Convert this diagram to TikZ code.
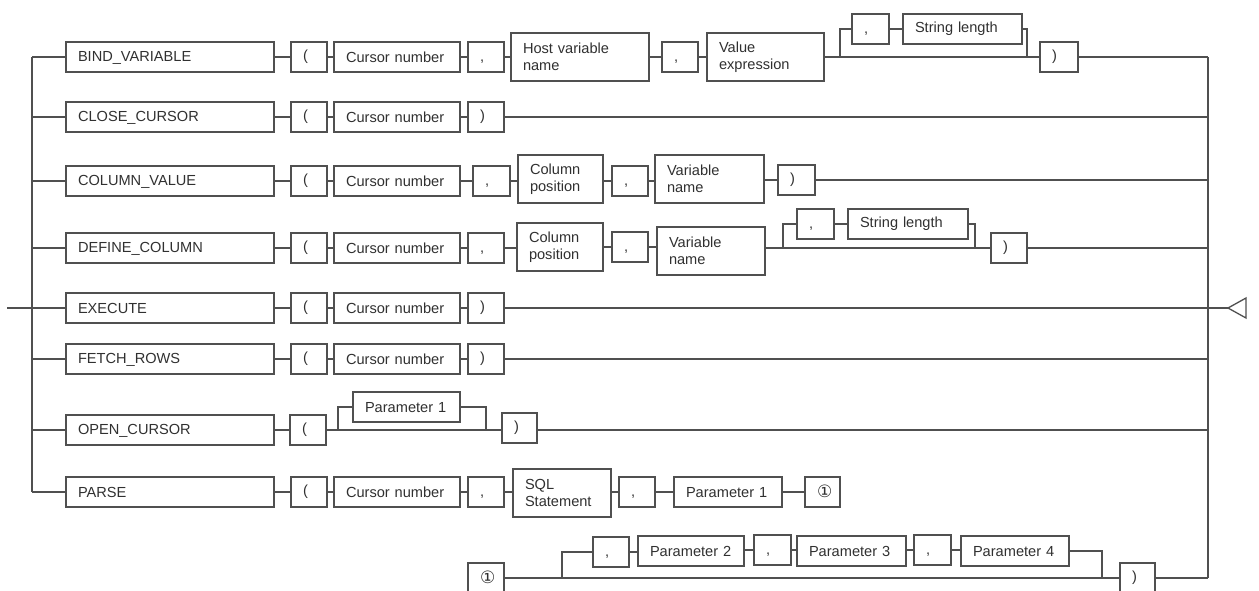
\documentclass[tikz,border=0pt]{standalone}
\usepackage{fontspec}
\setmainfont{Liberation Sans}
\newfontfamily\dejavu{DejaVu Sans}
\definecolor{ln}{HTML}{505050}
\definecolor{tx}{HTML}{303030}
\newcommand\mystrut{\rule[-1pt]{0pt}{12pt}}
\newcommand\mybox[7][]{%
  \pgfmathsetmacro\bxw{#4-#3}%
  \pgfmathsetmacro\bxc{(#3+#4)/2}%
  \pgfmathsetmacro\bxt{#4-#3-24}%
  \node[box,minimum width=\bxw pt,minimum height=#6 pt,text width=\bxt pt,#1] (#2) at (\bxc,#5) {#7};}
\tikzset{
  box/.style={draw=ln,line width=1.3pt,rectangle,inner xsep=12pt,inner ysep=0pt,
    align=left,text=tx,font=\fontsize{14.6}{17}\selectfont,
    execute at begin node=\mystrut,execute at end node=\mystrut},
  circ/.style={align=center,font=\dejavu\fontsize{17}{17}\selectfont},
  conn/.style={draw=ln,line width=1.3pt}
}
\begin{document}
\begin{tikzpicture}[x=1pt,y=-1pt]
\path[use as bounding box,clip] (0,0) rectangle (1259,590);
% row 1
\mybox{kw1}{66}{274}{57}{30}{BIND\_VARIABLE}
\mybox{lp1}{291}{327}{57}{30}{(}
\mybox{cn1}{334}{460}{57}{30}{Cursor number}
\mybox{ca1}{468}{504}{57}{30}{,}
\mybox{hv1}{511}{649}{57}{48}{Host variable\\name}
\mybox{cb1}{662}{698}{57}{30}{,}
\mybox{ve1}{707}{824}{57}{48}{Value\\expression}
\mybox{cc1}{852}{889}{29}{30}{,}
\mybox{sl1}{903}{1022}{29}{30}{String length}
\mybox{rp1}{1040}{1078}{57}{30}{)}
% row 2
\mybox{kw2}{66}{274}{117}{30}{CLOSE\_CURSOR}
\mybox{lp2}{291}{327}{117}{30}{(}
\mybox{cn2}{334}{460}{117}{30}{Cursor number}
\mybox{rp2}{468}{504}{117}{30}{)}
% row 3
\mybox{kw3}{66}{274}{181}{30}{COLUMN\_VALUE}
\mybox{lp3}{291}{327}{181}{30}{(}
\mybox{cn3}{334}{460}{181}{30}{Cursor number}
\mybox{ca3}{473}{510}{181}{30}{,}
\mybox{cp3}{518}{603}{179}{48}{Column\\position}
\mybox{cb3}{612}{648}{181}{30}{,}
\mybox{vn3}{655}{764}{179}{48}{Variable\\name}
\mybox{rp3}{778}{815}{180}{30}{)}
% row 4
\mybox{kw4}{66}{274}{248}{30}{DEFINE\_COLUMN}
\mybox{lp4}{291}{327}{248}{30}{(}
\mybox{cn4}{334}{460}{248}{30}{Cursor number}
\mybox{ca4}{468}{504}{248}{30}{,}
\mybox{cp4}{517}{603}{247}{48}{Column\\position}
\mybox{cb4}{612}{648}{247}{30}{,}
\mybox{vn4}{657}{765}{251}{48}{Variable\\name}
\mybox{cc4}{797}{834}{224}{30}{,}
\mybox{sl4}{848}{968}{224}{30}{String length}
\mybox{rp4}{991}{1027}{248}{30}{)}
% row 5
\mybox{kw5}{66}{274}{308}{30}{EXECUTE}
\mybox{lp5}{291}{327}{308}{30}{(}
\mybox{cn5}{334}{460}{308}{30}{Cursor number}
\mybox{rp5}{468}{504}{308}{30}{)}
% row 6
\mybox{kw6}{66}{274}{359}{30}{FETCH\_ROWS}
\mybox{lp6}{291}{327}{359}{30}{(}
\mybox{cn6}{334}{460}{359}{30}{Cursor number}
\mybox{rp6}{468}{504}{359}{30}{)}
% row 7
\mybox{kw7}{66}{274}{430}{30}{OPEN\_CURSOR}
\mybox{lp7}{290}{326}{430}{30}{(}
\mybox{pa7}{353}{460}{407}{30}{Parameter 1}
\mybox{rp7}{502}{537}{428}{30}{)}
% row 8
\mybox{kw8}{66}{274}{492}{30}{PARSE}
\mybox{lp8}{291}{327}{492}{30}{(}
\mybox{cn8}{334}{460}{492}{30}{Cursor number}
\mybox{ca8}{468}{504}{492}{30}{,}
\mybox{sq8}{513}{611}{493}{48}{SQL\\Statement}
\mybox{cb8}{619}{655}{492}{30}{,}
\mybox{pa8}{674}{782}{492}{30}{Parameter 1}
\mybox[circ]{ci8}{805}{840}{492}{30}{①}
% row 9
\mybox[circ]{ci9}{468}{504}{578}{30}{①}
\mybox{ca9}{593}{629}{552}{30}{,}
\mybox{p29}{638}{744}{551}{30}{Parameter 2}
\mybox{cb9}{754}{791}{550}{30}{,}
\mybox{p39}{797}{906}{551}{30}{Parameter 3}
\mybox{cc9}{914}{951}{550}{30}{,}
\mybox{p49}{961}{1069}{551}{30}{Parameter 4}
\mybox{rp9}{1120}{1155}{578}{30}{)}
% bus coordinates
\coordinate (in) at (7,308);
\foreach \n/\y in {1/57,2/117,3/181,4/248,5/308,6/359,7/430,8/492}{
  \coordinate (L\n) at (32,\y);}
\foreach \n/\y in {1/57,2/117,3/181,4/248,5/308,6/359,7/430,9/578}{
  \coordinate (R\n) at (1208,\y);}
\coordinate (arr) at (1228,308);
\coordinate (s1) at (840,57);  \coordinate (j1) at (1027,57);
\coordinate (s4) at (783,248); \coordinate (j4) at (975,248);
\coordinate (s7) at (338,430); \coordinate (j7) at (486,430);
\coordinate (s9) at (562,578); \coordinate (j9) at (1102,578);
% connectors
\draw[conn] (in) -- (L5);
\draw[conn] (L1) -- (L8);
\draw[conn] (R1) -- (R9);
\foreach \n in {1,...,8}{\draw[conn] (L\n) -- (kw\n);}
\foreach \n in {1,...,8}{\draw[conn] (kw\n) -- (lp\n);}
% row 1
\draw[conn] (lp1) -- (cn1); \draw[conn] (cn1) -- (ca1); \draw[conn] (ca1) -- (hv1);
\draw[conn] (hv1) -- (cb1); \draw[conn] (cb1) -- (ve1);
\draw[conn] (ve1) -- (s1) -- (j1) -- (rp1);
\draw[conn] (s1) |- (cc1); \draw[conn] (cc1) -- (sl1); \draw[conn] (sl1) -| (j1);
\draw[conn] (rp1) -- (R1);
% row 2
\draw[conn] (lp2) -- (cn2); \draw[conn] (cn2) -- (rp2); \draw[conn] (rp2) -- (R2);
% row 3
\draw[conn] (lp3) -- (cn3); \draw[conn] (cn3) -- (ca3); \draw[conn] (ca3) -- (ca3 -| cp3.west);
\draw[conn] (cp3.east |- cb3) -- (cb3); \draw[conn] (cb3) -- (cb3 -| vn3.west);
\draw[conn] (vn3.east |- rp3) -- (rp3); \draw[conn] (rp3) -- (rp3 -| R3);
% row 4
\draw[conn] (lp4) -- (cn4); \draw[conn] (cn4) -- (ca4); \draw[conn] (ca4) -- (ca4 -| cp4.west);
\draw[conn] (cp4.east |- cb4) -- (cb4); \draw[conn] (cb4) -- (cb4 -| vn4.west);
\draw[conn] (vn4.east |- s4) -- (s4) -- (j4) -- (rp4);
\draw[conn] (s4) |- (cc4); \draw[conn] (cc4) -- (sl4); \draw[conn] (sl4) -| (j4);
\draw[conn] (rp4) -- (R4);
% row 5
\draw[conn] (lp5) -- (cn5); \draw[conn] (cn5) -- (rp5); \draw[conn] (rp5) -- (arr);
\draw[conn,fill=white] (arr) -- ++(18,-10) -- ++(0,20) -- cycle;
% row 6
\draw[conn] (lp6) -- (cn6); \draw[conn] (cn6) -- (rp6); \draw[conn] (rp6) -- (R6);
% row 7
\draw[conn] (lp7) -- (s7) -- (j7) -- (j7 -| rp7.west);
\draw[conn] (s7) |- (pa7); \draw[conn] (pa7) -| (j7);
\draw[conn] (rp7.east |- R7) -- (R7);
% row 8
\draw[conn] (lp8) -- (cn8); \draw[conn] (cn8) -- (ca8); \draw[conn] (ca8) -- (ca8 -| sq8.west);
\draw[conn] (sq8.east |- cb8) -- (cb8); \draw[conn] (cb8) -- (pa8); \draw[conn] (pa8) -- (ci8);
% row 9
\draw[conn] (ci9) -- (s9) -- (j9) -- (rp9);
\draw[conn] (s9) |- (ca9); \draw[conn] (ca9) -- (ca9 -| p29.west);
\draw[conn] (p29.east |- cb9) -- (cb9); \draw[conn] (cb9) -- (cb9 -| p39.west);
\draw[conn] (p39.east |- cc9) -- (cc9); \draw[conn] (cc9) -- (cc9 -| p49.west);
\draw[conn] (p49) -| (j9);
\draw[conn] (rp9) -- (R9);
\end{tikzpicture}
\end{document}
